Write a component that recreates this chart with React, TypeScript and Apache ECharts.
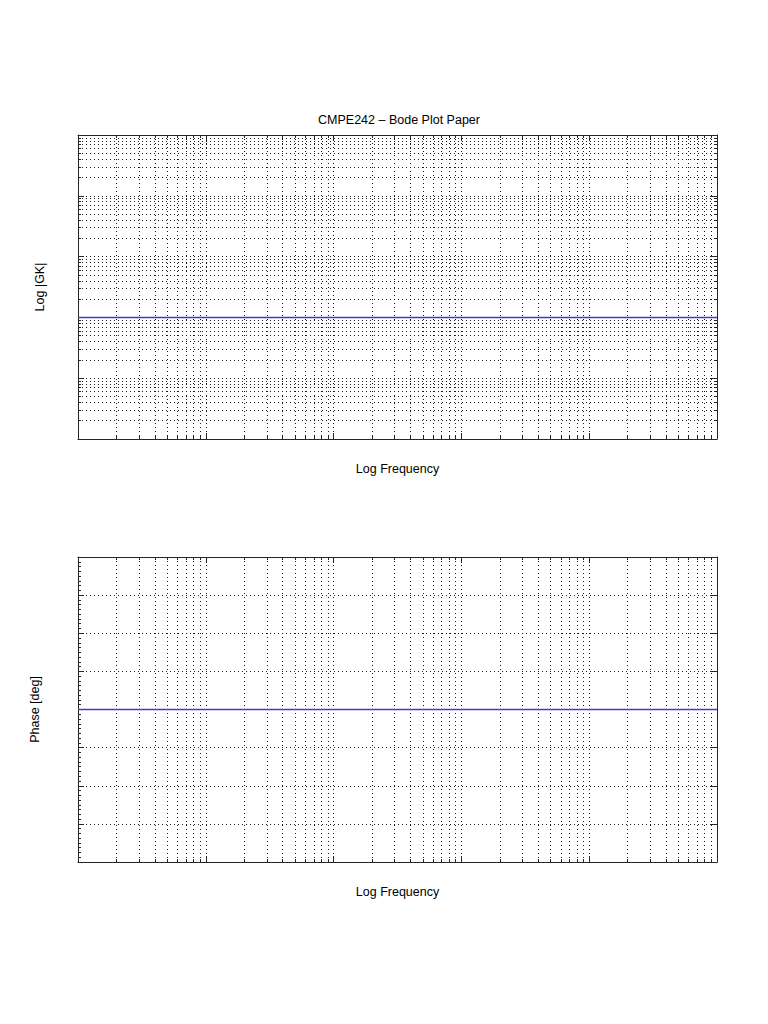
import React, { useEffect, useRef } from "react";
import * as echarts from "echarts";

// ---- data ----
const frequencies = [0.1, 1, 10, 100, 1000, 10000];
const magnitude = [1, 1, 1, 1, 1, 1];
const phaseDeg = [0, 0, 0, 0, 0, 0];
const freqRange = [0.1, 10000];
const magRange = [0.01, 1000];
const phaseRange = [-180, 180];
const phaseStep = 45;
const minorMultipliers = [2, 3, 4, 5, 6, 7, 8, 9];
const titleText = "CMPE242 – Bode Plot Paper";
const freqName = "Log Frequency";
const magName = "Log |GK|";
const phaseName = "Phase [deg]";

// ---- style ----
const FONT = '"Liberation Sans", Arial, Helvetica, sans-serif';
const FRAME = "#262626";
const DOTS = { color: "#1a1a1a", width: 1, type: [1, 3] as any };
const BLUE = "#3c3cd6";

function logPositions(range: number[]) {
  const a = Math.round(Math.log10(range[0]));
  const b = Math.round(Math.log10(range[1]));
  const major: number[] = [];
  const minor: number[] = [];
  for (let k = a; k <= b; k++) {
    major.push(k);
    if (k < b) for (const m of minorMultipliers) minor.push(k + Math.log10(m));
  }
  const all = [...major, ...minor].sort((p, q) => p - q);
  return { min: a, max: b, major, minor, all };
}

function overlay(gridIndex: number, position: string, lp: any, ticks: number[], len: number, extra: any = {}) {
  return {
    type: "value",
    gridIndex,
    position,
    min: lp.min,
    max: lp.max,
    silent: true,
    z: 0,
    axisLine: { show: true, onZero: false, lineStyle: { color: FRAME, width: 1 } },
    axisTick: { show: true, inside: true, length: len, customValues: ticks, lineStyle: { color: FRAME, width: 1 } },
    axisLabel: { show: false },
    splitLine: { show: false },
    ...extra,
  };
}

function buildOption() {
  const fx = logPositions(freqRange);
  const my = logPositions(magRange);
  const xAxes: any[] = [];
  const yAxes: any[] = [];
  const nameStyle = { fontSize: 12.5, color: "#000", fontFamily: FONT };

  const dataX: number[] = [];
  for (let g = 0; g < 2; g++) {
    dataX.push(xAxes.length);
    xAxes.push({ type: "log", logBase: 10, gridIndex: g, min: freqRange[0], max: freqRange[1], show: false });
    xAxes.push(
      overlay(g, "bottom", fx, fx.all, 3, {
        name: freqName,
        nameLocation: "middle",
        nameGap: 23,
        nameTextStyle: nameStyle,
        splitLine: { show: true, lineStyle: DOTS },
      })
    );
    xAxes.push(overlay(g, "bottom", fx, fx.major, 6, { axisLine: { show: false, onZero: false } }));
    xAxes.push(overlay(g, "top", fx, fx.all, 3));
    xAxes.push(overlay(g, "top", fx, fx.major, 6, { axisLine: { show: false, onZero: false } }));
  }

  const magY = yAxes.length;
  yAxes.push({ type: "log", logBase: 10, gridIndex: 0, min: magRange[0], max: magRange[1], show: false });
  yAxes.push(
    overlay(0, "left", my, my.all, 3, {
      name: magName,
      nameLocation: "middle",
      nameGap: 32,
      nameTextStyle: nameStyle,
      splitLine: { show: true, lineStyle: DOTS },
    })
  );
  yAxes.push(overlay(0, "left", my, my.major, 6, { axisLine: { show: false, onZero: false } }));
  yAxes.push(overlay(0, "right", my, my.all, 3));
  yAxes.push(overlay(0, "right", my, my.major, 6, { axisLine: { show: false, onZero: false } }));

  const phaseY = yAxes.length;
  yAxes.push({
    type: "value",
    gridIndex: 1,
    position: "left",
    min: phaseRange[0],
    max: phaseRange[1],
    interval: phaseStep,
    silent: true,
    z: 0,
    name: phaseName,
    nameLocation: "middle",
    nameGap: 37,
    nameTextStyle: nameStyle,
    axisLine: { show: true, onZero: false, lineStyle: { color: FRAME, width: 1 } },
    axisTick: { show: true, inside: true, length: 6, lineStyle: { color: FRAME } },
    minorTick: { show: true, splitNumber: 8, length: 3, lineStyle: { color: FRAME } },
    axisLabel: { show: false },
    splitLine: { show: true, lineStyle: DOTS },
  });
  yAxes.push({
    type: "value",
    gridIndex: 1,
    position: "right",
    min: phaseRange[0],
    max: phaseRange[1],
    interval: phaseStep,
    silent: true,
    z: 0,
    axisLine: { show: true, onZero: false, lineStyle: { color: FRAME, width: 1 } },
    axisTick: { show: true, inside: true, length: 6, lineStyle: { color: FRAME } },
    axisLabel: { show: false },
    splitLine: { show: false },
  });

  return {
    animation: false,
    backgroundColor: "#fff",
    textStyle: { fontFamily: FONT },
    grid: [
      { left: 78, top: 135, width: 639, height: 304 },
      { left: 78, top: 557, width: 639, height: 305 },
    ],
    xAxis: xAxes,
    yAxis: yAxes,
    graphic: [
      {
        type: "text",
        x: 399,
        y: 120,
        style: { text: titleText, fontSize: 12.5, fontFamily: FONT, fill: "#000", align: "center", verticalAlign: "middle" },
      },
    ],
    series: [
      {
        type: "line",
        name: "magnitude",
        xAxisIndex: dataX[0],
        yAxisIndex: magY,
        data: frequencies.map((f, i) => [f, magnitude[i]]),
        symbol: "none",
        color: BLUE,
        lineStyle: { color: BLUE, width: 1.5 },
        silent: true,
        z: 10,
      },
      {
        type: "line",
        name: "phase",
        xAxisIndex: dataX[1],
        yAxisIndex: phaseY,
        data: frequencies.map((f, i) => [f, phaseDeg[i]]),
        symbol: "none",
        color: BLUE,
        lineStyle: { color: BLUE, width: 1.5 },
        silent: true,
        z: 10,
      },
    ],
  };
}

export default function App() {
  const ref = useRef<HTMLDivElement>(null);
  useEffect(() => {
    if (!ref.current) return;
    const chart = echarts.init(ref.current, null, { renderer: "svg" });
    chart.setOption(buildOption() as any);
    return () => chart.dispose();
  }, []);
  return <div ref={ref} style={{ position: "fixed", left: 0, top: 0, width: 768, height: 1024, background: "#fff" }} />;
}
